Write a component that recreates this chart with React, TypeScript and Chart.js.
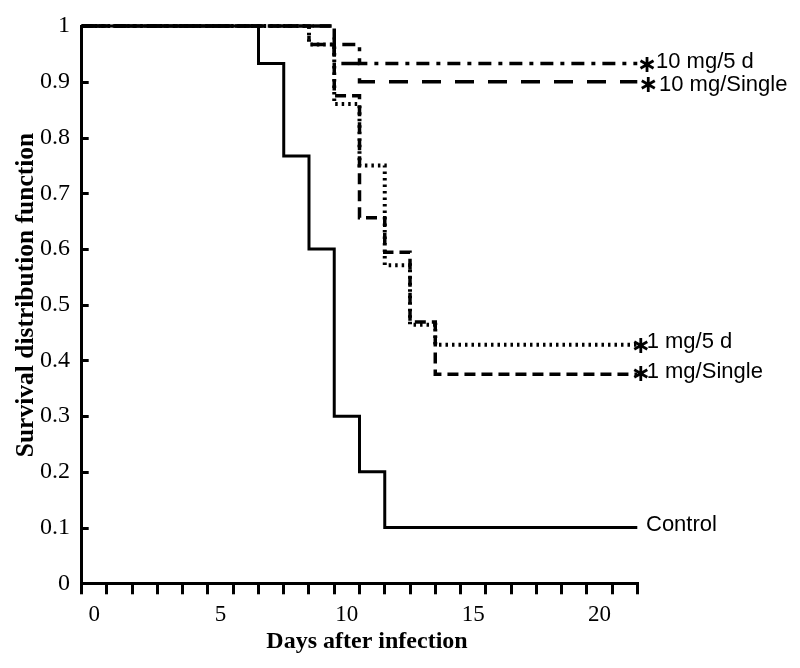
import React, { useEffect, useRef } from 'react';
import { Chart, registerables } from 'chart.js';

Chart.register(...registerables);

// ---- Data ----
const xTickDays = [0, 1, 2, 3, 4, 5, 6, 7, 8, 9, 10, 11, 12, 13, 14, 15, 16, 17, 18, 19, 20, 21];
const xLabelDays = [0, 5, 10, 15, 20];
const yTicks = [0, 0.1, 0.2, 0.3, 0.4, 0.5, 0.6, 0.7, 0.8, 0.9, 1];

const controlX = [-0.5, 6.5, 7.5, 8.5, 9.5, 10.5, 11.5, 21.5];
const controlY = [1, 0.933, 0.767, 0.6, 0.3, 0.2, 0.1, 0.1];

const tenMg5dX = [-0.5, 8.5, 10.5, 21.5];
const tenMg5dY = [1, 0.967, 0.933, 0.933];

const tenMgSingleX = [-0.5, 9.5, 10.5, 21.5];
const tenMgSingleY = [1, 0.933, 0.9, 0.9];

const oneMg5dX = [-0.5, 8.5, 9.5, 10.5, 11.5, 12.5, 13.5, 21.5];
const oneMg5dY = [1, 0.967, 0.86, 0.75, 0.571, 0.464, 0.428, 0.428];

const oneMgSingleX = [-0.5, 9.5, 10.5, 11.5, 12.5, 13.5, 21.5];
const oneMgSingleY = [1, 0.875, 0.656, 0.594, 0.469, 0.375, 0.375];

const seriesNames = ['Control', '10 mg/5 d', '10 mg/Single', '1 mg/5 d', '1 mg/Single'];
const seriesStars = [false, true, true, true, true];

const SANS = '"Liberation Sans", Arial, sans-serif';
const SERIF = '"Liberation Serif", "Times New Roman", serif';

const toPoints = (xs: number[], ys: number[]) => xs.map((x, i) => ({ x, y: ys[i] }));

// label placement (offsets relative to the end of each line), index-aligned with seriesNames
const labelLayout = [
  { textDx: 8.7, starDx: 0, textDy: -2.2, starDy: 0 },
  { textDx: 18.7, starDx: 9.4, textDy: -1.2, starDy: 2.5 },
  { textDx: 21.7, starDx: 10.7, textDy: 3, starDy: 3.5 },
  { textDx: 9.4, starDx: 3.2, textDy: -2.4, starDy: 1.5 },
  { textDx: 9.4, starDx: 3.2, textDy: -2.3, starDy: 0 },
];

const endLabelsPlugin = {
  id: 'endLabels',
  afterDatasetsDraw(chart: any) {
    const ctx = chart.ctx;
    const xs = chart.scales.x;
    const ys = chart.scales.y;
    ctx.save();
    ctx.fillStyle = '#000';
    ctx.textBaseline = 'middle';
    chart.data.datasets.forEach((ds: any, i: number) => {
      const last = ds.data[ds.data.length - 1];
      const px = xs.getPixelForValue(last.x);
      const py = ys.getPixelForValue(last.y);
      const l = labelLayout[i];
      if (seriesStars[i]) {
        ctx.font = 'bold 24px "DejaVu Sans", sans-serif';
        ctx.textAlign = 'center';
        ctx.fillText('\u2217', px + l.starDx, py + l.starDy);
      }
      ctx.font = '22px ' + SANS;
      ctx.textAlign = 'left';
      ctx.fillText(seriesNames[i], px + l.textDx, py + l.textDy);
    });
    ctx.restore();
  },
};

const axisExtrasPlugin = {
  id: 'axisExtras',
  afterDraw(chart: any) {
    const ctx = chart.ctx;
    const ys = chart.scales.y;
    const area = chart.chartArea;
    ctx.save();
    // inward y tick marks
    ctx.strokeStyle = '#000';
    ctx.lineWidth = 3;
    yTicks.forEach((v) => {
      if (v === 0) return;
      const y = Math.round(ys.getPixelForValue(v)) + 0.5;
      ctx.beginPath();
      ctx.moveTo(area.left, y);
      ctx.lineTo(area.left + 7, y);
      ctx.stroke();
    });
    // axis titles
    ctx.fillStyle = '#000';
    ctx.font = 'bold 24px ' + SERIF;
    ctx.textAlign = 'center';
    ctx.textBaseline = 'alphabetic';
    ctx.fillText('Days after infection', 367, 648);
    ctx.translate(32.5, 295);
    ctx.rotate(-Math.PI / 2);
    ctx.font = 'bold 25.5px ' + SERIF;
    ctx.fillText('Survival distribution function', 0, 0);
    ctx.restore();
  },
};

export default function App() {
  const ref = useRef<HTMLCanvasElement>(null);
  useEffect(() => {
    if (!ref.current) return;
    const common = {
      stepped: 'before' as const,
      borderColor: '#000',
      borderWidth: 3,
      pointRadius: 0,
      fill: false,
      clip: 6,
    };
    const chart = new Chart(ref.current, {
      type: 'line',
      data: {
        datasets: [
          { ...common, label: seriesNames[0], data: toPoints(controlX, controlY) },
          { ...common, label: seriesNames[1], data: toPoints(tenMg5dX, tenMg5dY), borderDash: [13, 7, 4, 7], borderWidth: 3.5 },
          { ...common, label: seriesNames[2], data: toPoints(tenMgSingleX, tenMgSingleY), borderDash: [19, 14], borderWidth: 3.5 },
          { ...common, label: seriesNames[3], data: toPoints(oneMg5dX, oneMg5dY), borderDash: [2.5, 4], borderWidth: 4 },
          { ...common, label: seriesNames[4], data: toPoints(oneMgSingleX, oneMgSingleY), borderDash: [11, 6], borderWidth: 3.5 },
        ] as any,
      },
      options: {
        animation: false,
        responsive: false,
        devicePixelRatio: 1,
        layout: { padding: { left: 0, right: 162.7, top: 20.7, bottom: 0 } },
        plugins: { legend: { display: false }, tooltip: { enabled: false } },
        scales: {
          x: {
            type: 'linear',
            min: -0.5,
            max: 21.5,
            afterBuildTicks: (s: any) => {
              s.ticks = xTickDays.map((v) => ({ value: v }));
            },
            afterFit: (s: any) => {
              s.height = 668 - 583.3;
            },
            grid: {
              display: true,
              offset: true,
              drawOnChartArea: false,
              drawTicks: true,
              tickLength: 11,
              lineWidth: 3,
              color: '#000',
            },
            border: { display: true, width: 3, color: '#000' },
            ticks: {
              autoSkip: false,
              maxRotation: 0,
              padding: 7,
              color: '#000',
              font: { family: SERIF, size: 23 },
              callback: (v: any) => (xLabelDays.includes(Number(v)) ? String(v) : ''),
            },
          },
          y: {
            type: 'linear',
            min: 0,
            max: 1,
            afterBuildTicks: (s: any) => {
              s.ticks = yTicks.map((v) => ({ value: v }));
            },
            afterFit: (s: any) => {
              s.width = 81.7;
            },
            grid: { display: false, drawTicks: false },
            border: { display: true, width: 3, color: '#000' },
            ticks: {
              padding: 11.7,
              color: '#000',
              font: { family: SERIF, size: 24 },
              callback: (v: any) => String(Math.round(Number(v) * 10) / 10),
            },
          },
        },
      } as any,
      plugins: [endLabelsPlugin, axisExtrasPlugin],
    });
    return () => chart.destroy();
  }, []);
  return (
    <div style={{ position: 'fixed', left: 0, top: 0, width: 800, height: 668, background: '#fff' }}>
      <canvas ref={ref} width={800} height={668} />
    </div>
  );
}
